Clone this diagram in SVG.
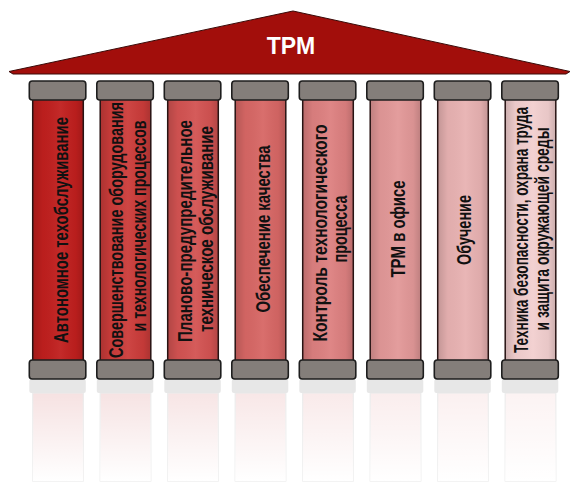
<svg xmlns="http://www.w3.org/2000/svg" width="571" height="483" viewBox="0 0 571 483">
<style>
.cap{fill:#847e7a;stroke:#1e1e1e;stroke-width:1.6}
.body{stroke:#2a1515;stroke-width:1.5}
.shade{fill:url(#shade)}
.lbl{font-family:"Liberation Sans",Arial,sans-serif;font-weight:bold;font-size:20px;fill:#111;text-anchor:middle}
.rcap{fill:#e7e7e7}
.rbody{stroke:#ececec;stroke-width:1.2}
</style>
<defs>
<linearGradient id="shade" x1="0" y1="0" x2="1" y2="0">
<stop offset="0" stop-color="#000" stop-opacity="0.16"/>
<stop offset="0.2" stop-color="#000" stop-opacity="0.03"/>
<stop offset="0.55" stop-color="#fff" stop-opacity="0.05"/>
<stop offset="0.85" stop-color="#000" stop-opacity="0.04"/>
<stop offset="1" stop-color="#000" stop-opacity="0.16"/>
</linearGradient>
<linearGradient id="fade" x1="0" y1="0" x2="0" y2="1">
<stop offset="0" stop-color="#fff" stop-opacity="0"/>
<stop offset="1" stop-color="#fff" stop-opacity="1"/>
</linearGradient>
</defs>
<rect width="571" height="483" fill="#fff"/>

<g id="roof">
<path d="M9,71.5 L293,11 L570,71.5 L566,74 L13,74 Z" fill="#a20e0b" stroke="#3a0a08" stroke-width="1"/>
<text x="291" y="54" font-family="'Liberation Sans',Arial,sans-serif" font-weight="bold" font-size="23" fill="#fff" text-anchor="middle">TPM</text>
</g>

<g id="col1">
<rect x="32.7" y="393" width="50.6" height="88" fill="#f6e2e2" class="rbody"/>
<rect x="32.7" y="393" width="50.6" height="88" fill="url(#fade)"/>
<rect x="29.3" y="379" width="56.5" height="14" rx="2" class="rcap"/>
<rect x="32.7" y="99" width="50.6" height="262" fill="#c01f1e" class="body"/>
<rect x="32.7" y="99" width="50.6" height="262" class="shade"/>
<rect x="29.3" y="81" width="56.5" height="19" rx="3" class="cap"/>
<rect x="29.3" y="360" width="56.5" height="19" rx="3" class="cap"/>
<text class="lbl" transform="translate(67.5,230) rotate(-90)" textLength="226" lengthAdjust="spacingAndGlyphs">Автономное техобслуживание</text>
</g>

<g id="col2">
<rect x="100.2" y="393" width="50.6" height="88" fill="#f6e3e3" class="rbody"/>
<rect x="100.2" y="393" width="50.6" height="88" fill="url(#fade)"/>
<rect x="96.8" y="379" width="56.5" height="14" rx="2" class="rcap"/>
<rect x="100.2" y="99" width="50.6" height="262" fill="#cb3c3a" class="body"/>
<rect x="100.2" y="99" width="50.6" height="262" class="shade"/>
<rect x="96.8" y="81" width="56.5" height="19" rx="3" class="cap"/>
<rect x="96.8" y="360" width="56.5" height="19" rx="3" class="cap"/>
<text class="lbl" transform="translate(123,230) rotate(-90)" textLength="256" lengthAdjust="spacingAndGlyphs">Совершенствование оборудования</text>
<text class="lbl" transform="translate(146,226) rotate(-90)" textLength="211" lengthAdjust="spacingAndGlyphs">и технологических процессов</text>
</g>

<g id="col3">
<rect x="167.7" y="393" width="50.6" height="88" fill="#f7e5e5" class="rbody"/>
<rect x="167.7" y="393" width="50.6" height="88" fill="url(#fade)"/>
<rect x="164.3" y="379" width="56.5" height="14" rx="2" class="rcap"/>
<rect x="167.7" y="99" width="50.6" height="262" fill="#d35352" class="body"/>
<rect x="167.7" y="99" width="50.6" height="262" class="shade"/>
<rect x="164.3" y="81" width="56.5" height="19" rx="3" class="cap"/>
<rect x="164.3" y="360" width="56.5" height="19" rx="3" class="cap"/>
<text class="lbl" transform="translate(192,231) rotate(-90)" textLength="222" lengthAdjust="spacingAndGlyphs">Планово-предупредительное</text>
<text class="lbl" transform="translate(213,229) rotate(-90)" textLength="206" lengthAdjust="spacingAndGlyphs">техническое обслуживание</text>
</g>

<g id="col4">
<rect x="235.2" y="393" width="50.6" height="88" fill="#f8e7e7" class="rbody"/>
<rect x="235.2" y="393" width="50.6" height="88" fill="url(#fade)"/>
<rect x="231.8" y="379" width="56.5" height="14" rx="2" class="rcap"/>
<rect x="235.2" y="99" width="50.6" height="262" fill="#d76765" class="body"/>
<rect x="235.2" y="99" width="50.6" height="262" class="shade"/>
<rect x="231.8" y="81" width="56.5" height="19" rx="3" class="cap"/>
<rect x="231.8" y="360" width="56.5" height="19" rx="3" class="cap"/>
<text class="lbl" transform="translate(270,229) rotate(-90)" textLength="167" lengthAdjust="spacingAndGlyphs">Обеспечение качества</text>
</g>

<g id="col5">
<rect x="302.7" y="393" width="50.6" height="88" fill="#f9eaea" class="rbody"/>
<rect x="302.7" y="393" width="50.6" height="88" fill="url(#fade)"/>
<rect x="299.3" y="379" width="56.5" height="14" rx="2" class="rcap"/>
<rect x="302.7" y="99" width="50.6" height="262" fill="#dd8080" class="body"/>
<rect x="302.7" y="99" width="50.6" height="262" class="shade"/>
<rect x="299.3" y="81" width="56.5" height="19" rx="3" class="cap"/>
<rect x="299.3" y="360" width="56.5" height="19" rx="3" class="cap"/>
<text class="lbl" transform="translate(327,233) rotate(-90)" textLength="217" lengthAdjust="spacingAndGlyphs">Контроль технологического</text>
<text class="lbl" transform="translate(347,229) rotate(-90)" textLength="67" lengthAdjust="spacingAndGlyphs">процесса</text>
</g>

<g id="col6">
<rect x="370.2" y="393" width="50.6" height="88" fill="#faeded" class="rbody"/>
<rect x="370.2" y="393" width="50.6" height="88" fill="url(#fade)"/>
<rect x="366.8" y="379" width="56.5" height="14" rx="2" class="rcap"/>
<rect x="370.2" y="99" width="50.6" height="262" fill="#e29898" class="body"/>
<rect x="370.2" y="99" width="50.6" height="262" class="shade"/>
<rect x="366.8" y="81" width="56.5" height="19" rx="3" class="cap"/>
<rect x="366.8" y="360" width="56.5" height="19" rx="3" class="cap"/>
<text class="lbl" transform="translate(405,229) rotate(-90)" textLength="97" lengthAdjust="spacingAndGlyphs">TPM в офисе</text>
</g>

<g id="col7">
<rect x="437.7" y="393" width="50.6" height="88" fill="#fbf0f0" class="rbody"/>
<rect x="437.7" y="393" width="50.6" height="88" fill="url(#fade)"/>
<rect x="434.3" y="379" width="56.5" height="14" rx="2" class="rcap"/>
<rect x="437.7" y="99" width="50.6" height="262" fill="#e8b2b2" class="body"/>
<rect x="437.7" y="99" width="50.6" height="262" class="shade"/>
<rect x="434.3" y="81" width="56.5" height="19" rx="3" class="cap"/>
<rect x="434.3" y="360" width="56.5" height="19" rx="3" class="cap"/>
<text class="lbl" transform="translate(471,230) rotate(-90)" textLength="70" lengthAdjust="spacingAndGlyphs">Обучение</text>
</g>

<g id="col8">
<rect x="505.2" y="393" width="50.6" height="88" fill="#fcf3f3" class="rbody"/>
<rect x="505.2" y="393" width="50.6" height="88" fill="url(#fade)"/>
<rect x="501.8" y="379" width="56.5" height="14" rx="2" class="rcap"/>
<rect x="505.2" y="99" width="50.6" height="262" fill="#f2cfcf" class="body"/>
<rect x="505.2" y="99" width="50.6" height="262" class="shade"/>
<rect x="501.8" y="81" width="56.5" height="19" rx="3" class="cap"/>
<rect x="501.8" y="360" width="56.5" height="19" rx="3" class="cap"/>
<text class="lbl" transform="translate(528,230) rotate(-90)" textLength="246" lengthAdjust="spacingAndGlyphs" font-size="19.5">Техника безопасности, охрана труда</text>
<text class="lbl" transform="translate(548.5,229) rotate(-90)" textLength="203" lengthAdjust="spacingAndGlyphs" font-size="19.5">и защита окружающей среды</text>
</g>
</svg>
